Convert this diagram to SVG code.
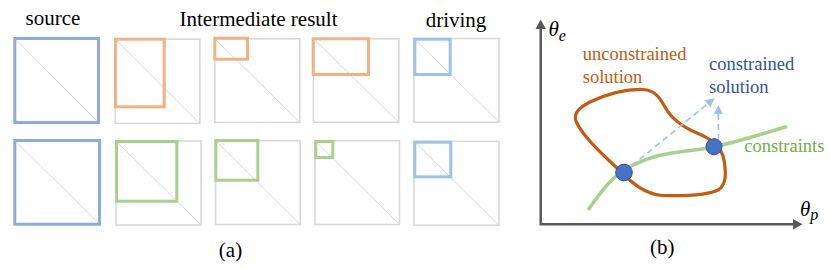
<svg xmlns="http://www.w3.org/2000/svg" width="830" height="269" viewBox="0 0 830 269">
<style>
  .t { font-family: "Liberation Serif", "Times New Roman", serif; fill: #000; }
  .frame { fill: none; stroke: #d9d9d9; stroke-width: 1.6; }
  .diag { stroke: #d9d9d9; stroke-width: 1; }
  .src { fill: none; stroke: #8faadc; stroke-width: 3; }
  .org { fill: none; stroke: #f4b183; stroke-width: 3; }
  .grn { fill: none; stroke: #a9d18e; stroke-width: 3; }
  .drv { fill: none; stroke: #9dc3e6; stroke-width: 3; }
  .axis { stroke: #595959; stroke-width: 2.5; fill: none; }
  .lbl { font-family: "Liberation Serif", "Times New Roman", serif; font-size: 18.5px; }
  .math { font-family: "Liberation Serif", "Times New Roman", serif; font-style: italic; fill: #000; }
  .dash { stroke: #9dc3e6; stroke-width: 1.6; stroke-dasharray: 6 4; fill: none; }
  .dot { fill: #4472c4; stroke: #2f528f; stroke-width: 1; }
</style>
<defs>
  <marker id="axArrow" markerWidth="10" markerHeight="10" refX="5" refY="5" orient="auto" markerUnits="userSpaceOnUse">
    <path d="M0,0 L10,5 L0,10 Z" fill="#595959"/>
  </marker>
  <marker id="dArrow" markerWidth="9" markerHeight="9" refX="7" refY="4.5" orient="auto" markerUnits="userSpaceOnUse">
    <path d="M0,0 L9,4.5 L0,9 Z" fill="#9dc3e6"/>
  </marker>
</defs>
<rect width="830" height="269" fill="#fff"/>

<!-- Panel (a) headings -->
<text class="t" x="53" y="25" font-size="21" text-anchor="middle">source</text>
<text class="t" x="258.5" y="26" font-size="21" text-anchor="middle">Intermediate result</text>
<text class="t" x="456" y="27" font-size="21" text-anchor="middle">driving</text>
<text class="t" x="230.5" y="257" font-size="21" text-anchor="middle">(a)</text>

<!-- Top row -->
<g id="src-top">
  <line class="diag" x1="14.8" y1="38.5" x2="98.5" y2="122.5"/>
  <rect class="src" x="14.8" y="38.5" width="83.7" height="84"/>
</g>
<g id="mid1-top">
  <rect class="frame" x="115.3" y="39.2" width="84.5" height="84.2"/>
  <line class="diag" x1="115.3" y1="39.2" x2="199.8" y2="123.4"/>
  <rect class="org" x="115.5" y="39.2" width="48.7" height="67.6"/>
</g>
<g id="mid2-top">
  <rect class="frame" x="214.8" y="38.8" width="85" height="83.6"/>
  <line class="diag" x1="214.8" y1="38.8" x2="299.8" y2="122.4"/>
  <rect class="org" x="214.8" y="38.2" width="32.7" height="21"/>
</g>
<g id="mid3-top">
  <rect class="frame" x="313.4" y="38.8" width="85.4" height="83.4"/>
  <line class="diag" x1="313.4" y1="38.8" x2="398.8" y2="122.2"/>
  <rect class="org" x="313.2" y="38.8" width="55.3" height="35.7"/>
</g>
<g id="drv-top">
  <rect class="frame" x="414" y="38.5" width="85" height="83.7"/>
  <line class="diag" x1="414" y1="38.5" x2="499" y2="122.2"/>
  <rect class="drv" x="414.8" y="39.2" width="35.4" height="35.3"/>
</g>

<!-- Bottom row -->
<g id="src-bottom">
  <line class="diag" x1="14.8" y1="140.5" x2="99.5" y2="224.2"/>
  <rect class="src" x="14.8" y="140.5" width="84.7" height="83.7"/>
</g>
<g id="mid1-bottom">
  <rect class="frame" x="116" y="141" width="85" height="84"/>
  <line class="diag" x1="116" y1="141" x2="201" y2="225"/>
  <rect class="grn" x="116.5" y="141.5" width="60.3" height="59.7"/>
</g>
<g id="mid2-bottom">
  <rect class="frame" x="215.6" y="140.7" width="84.6" height="83.8"/>
  <line class="diag" x1="215.6" y1="140.7" x2="300.2" y2="224.5"/>
  <rect class="grn" x="215.8" y="140.5" width="42" height="39.7"/>
</g>
<g id="mid3-bottom">
  <rect class="frame" x="315" y="140.7" width="84.5" height="83.8"/>
  <line class="diag" x1="315" y1="140.7" x2="399.5" y2="224.5"/>
  <rect class="grn" x="315.8" y="141.5" width="17" height="16"/>
</g>
<g id="drv-bottom">
  <rect class="frame" x="414" y="141.4" width="85" height="83.8"/>
  <line class="diag" x1="414" y1="141.4" x2="499" y2="225.2"/>
  <rect class="drv" x="414.8" y="142.2" width="36" height="34.6"/>
</g>

<!-- Panel (b) -->
<g id="axes">
  <polyline class="axis" points="540.7,26 540.7,224.3 796,224.3"/>
  <path d="M535.5,29 L540.7,19.5 L545.9,29 Z" fill="#595959"/>
  <path d="M793,219 L802.5,224.3 L793,229.6 Z" fill="#595959"/>
  <text class="math" x="548.5" y="36" font-size="21">θ<tspan font-size="16" dy="4.5">e</tspan></text>
  <text class="math" x="800" y="215.7" font-size="21">θ<tspan font-size="16" dy="4">p</tspan></text>
</g>
<g id="unconstrained">
  <path d="M 578 125 C 572 116, 576 109, 590 102 C 605 95, 625 89, 643 89.5 C 655 90, 660 98, 665 107 C 671 118, 680 126, 697 133 C 712 139, 722 148, 724 160 C 726 172, 727 185, 718 190 C 706 196, 680 196, 662 195.5 C 645 194, 632 183, 621 172 C 610 161, 598 151, 588 139 C 583 133, 580 129, 578 125 Z" fill="none" stroke="#c55a11" stroke-width="3.2" stroke-linejoin="round"/>
  <text class="lbl" x="582.7" y="60" fill="#c55a11">unconstrained</text>
  <text class="lbl" x="582.7" y="82.5" fill="#c55a11">solution</text>
</g>
<g id="constraints">
  <path d="M 588 210 C 598 196, 608 181, 622 172 C 636 162, 650 156, 672 153 C 692 150, 705 149, 716 146.5 C 740 141, 765 133, 787 126.5" fill="none" stroke="#a9d18e" stroke-width="3.5" stroke-linecap="butt"/>
  <text class="lbl" x="744.3" y="152.3" fill="#70ad47">constraints</text>
</g>
<g id="connectors">
  <line class="dash" x1="624" y1="172" x2="713" y2="99.5" marker-end="url(#dArrow)"/>
  <line class="dash" x1="718.5" y1="140" x2="718.3" y2="107" marker-end="url(#dArrow)"/>
</g>
<g id="constrained">
  <text class="lbl" x="709" y="70" fill="#2f5597">constrained</text>
  <text class="lbl" x="709" y="92.7" fill="#2f5597">solution</text>
</g>
<g id="solution-points">
  <circle class="dot" cx="624" cy="172.5" r="8.3"/>
  <circle class="dot" cx="714" cy="146.7" r="8"/>
</g>
<text class="t" x="662.3" y="254" font-size="21" text-anchor="middle">(b)</text>
</svg>
